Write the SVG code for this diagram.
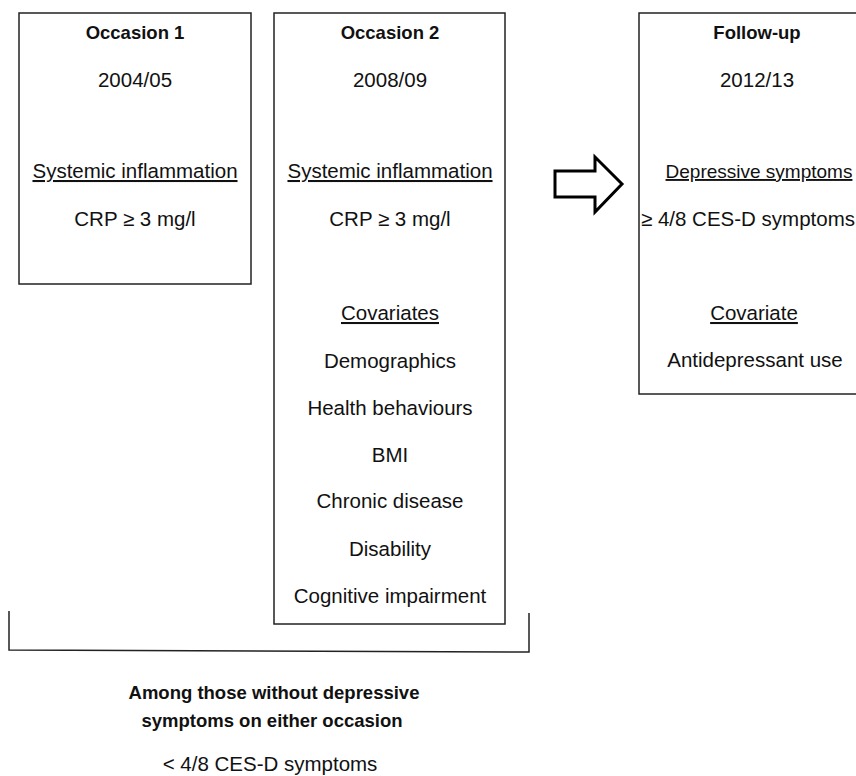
<svg xmlns="http://www.w3.org/2000/svg" width="856" height="776" viewBox="0 0 856 776">
<style>
.box{fill:#fff;stroke:#222;stroke-width:1.5}
.t{font-family:"Liberation Sans",Arial,sans-serif;font-size:20.5px;fill:#111;text-anchor:middle}
.b{font-family:"Liberation Sans",Arial,sans-serif;font-size:18.5px;font-weight:bold;fill:#111;text-anchor:middle}
.u{text-decoration:underline}
.ln{fill:none;stroke:#222;stroke-width:1.5}
</style>
<rect width="856" height="776" fill="#fff"/>
<g id="occasion1">
<rect class="box" x="19" y="13" width="232" height="271"/>
<text class="b" x="135" y="39">Occasion 1</text>
<text class="t" x="135" y="87">2004/05</text>
<text class="t u" x="135" y="178">Systemic inflammation</text>
<text class="t" x="135" y="226">CRP ≥ 3 mg/l</text>
</g>
<g id="occasion2">
<rect class="box" x="274" y="13" width="231" height="611"/>
<text class="b" x="390" y="39">Occasion 2</text>
<text class="t" x="390" y="87">2008/09</text>
<text class="t u" x="390" y="178">Systemic inflammation</text>
<text class="t" x="390" y="226">CRP ≥ 3 mg/l</text>
<text class="t u" x="390" y="320">Covariates</text>
<text class="t" x="390" y="368">Demographics</text>
<text class="t" x="390" y="415">Health behaviours</text>
<text class="t" x="390" y="462">BMI</text>
<text class="t" x="390" y="508">Chronic disease</text>
<text class="t" x="390" y="556">Disability</text>
<text class="t" x="390" y="603">Cognitive impairment</text>
</g>
<g id="followup">
<rect class="box" x="639" y="13" width="300" height="381"/>
<text class="b" x="757" y="39">Follow-up</text>
<text class="t" x="757" y="87">2012/13</text>
<text class="t u" x="759" y="178" style="font-size:19px">Depressive symptoms</text>
<text class="t" x="748" y="226">≥ 4/8 CES-D symptoms</text>
<text class="t u" x="754" y="320">Covariate</text>
<text class="t" x="755" y="367">Antidepressant use</text>
</g>
<g id="connectors">
<polygon points="555,171 595,171 595,157 622,184 595,212 595,197 555,197" fill="#fff" stroke="#000" stroke-width="3" stroke-linejoin="miter"/>
<polyline class="ln" points="9,611 9,650 529,652 529,613"/>
</g>
<g id="note">
<text class="b" x="274" y="699">Among those without depressive</text>
<text class="b" x="272" y="727">symptoms on either occasion</text>
<text class="t" x="270" y="771">&lt; 4/8 CES-D symptoms</text>
</g>
</svg>
